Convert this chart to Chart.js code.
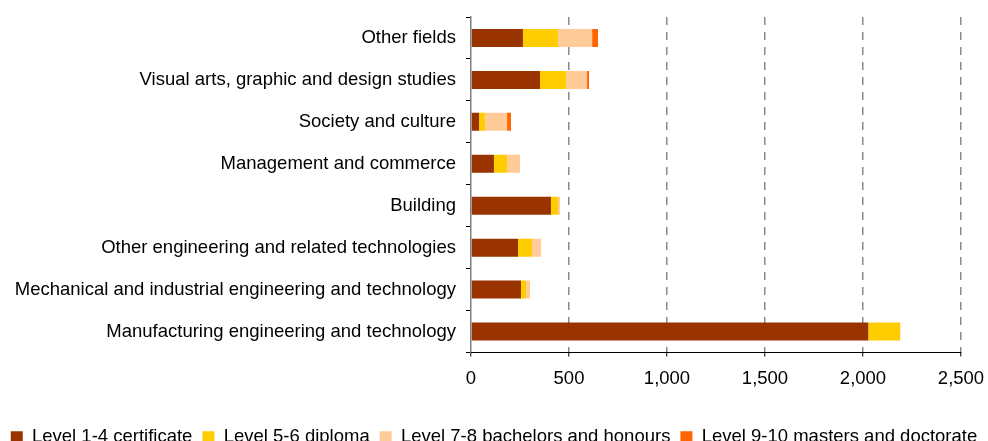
<!DOCTYPE html>
<html>
<head>
<meta charset="utf-8">
<script src="https://cdn.jsdelivr.net/npm/chart.js@4"></script>
<style>
html,body{margin:0;padding:0;overflow:hidden;background:#fff;}
#wrap{width:988px;height:456px;}
</style>
</head>
<body>
<div id="wrap"><canvas id="c" width="988" height="456"></canvas></div>
<script>
const categories = [
  "Other fields",
  "Visual arts, graphic and design studies",
  "Society and culture",
  "Management and commerce",
  "Building",
  "Other engineering and related technologies",
  "Mechanical and industrial engineering and technology",
  "Manufacturing engineering and technology"
];
const seriesNames = [
  "Level 1-4 certificate",
  "Level 5-6 diploma",
  "Level 7-8 bachelors and honours",
  "Level 9-10 masters and doctorate"
];
const certificate = [265, 352, 41, 117, 408, 240, 255, 2027];
const diploma     = [179, 133, 30,  67,  36,  71,  26,  163];
const bachelors   = [174, 107, 113, 66,  10,  46,  20,    0];
const masters     = [ 30,  10, 20,   0,   0,   0,   0,    0];
const xTicks = [0, 500, 1000, 1500, 2000, 2500];

const colors = ["#993300", "#FFCC00", "#FFCC99", "#FF6600"];
const values = [certificate, diploma, bachelors, masters];
const FONT = "'Liberation Sans', Arial, sans-serif";

const datasets = values.map((v, i) => ({
  label: seriesNames[i],
  data: v,
  backgroundColor: colors[i],
  borderWidth: 0,
  categoryPercentage: 1,
  barPercentage: 0.43,
  xAxisID: 'x',
  yAxisID: 'y'
}));

new Chart(document.getElementById('c'), {
  type: 'bar',
  data: { labels: categories, datasets },
  options: {
    indexAxis: 'y',
    responsive: false,
    animation: false,
    layout: { padding: { top: 17, right: 0, bottom: 0, left: 0 } },
    plugins: {
      tooltip: { enabled: false },
      legend: {
        position: 'bottom',
        labels: {
          boxWidth: 12,
          boxHeight: 11,
          padding: 10,
          color: '#000',
          font: { family: FONT, size: 18.5, lineHeight: 1 }
        }
      }
    },
    scales: {
      y: {
        stacked: true,
        position: 'left',
        afterFit: s => { s.width = 471; s.paddingTop = 0; s.paddingBottom = 0; },
        ticks: { color: '#000', padding: 10, font: { family: FONT, size: 18.5 } },
        grid: { display: true, drawOnChartArea: false, drawTicks: true, tickLength: 5, tickColor: '#000', offset: true },
        border: { display: true, color: '#808080', width: 1.5 }
      },
      yR: {
        type: 'category',
        position: 'right',
        display: true,
        afterFit: s => { s.width = 27; s.paddingTop = 0; s.paddingBottom = 0; },
        ticks: { display: false },
        grid: { display: false, drawTicks: false },
        border: { display: false }
      },
      x: {
        stacked: true,
        min: xTicks[0],
        max: xTicks[xTicks.length - 1],
        afterBuildTicks: s => { s.ticks = xTicks.map(v => ({ value: v })); },
        afterFit: s => { s.height = 65; s.paddingLeft = 0; s.paddingRight = 0; },
        ticks: {
          color: '#000',
          padding: 11,
          maxRotation: 0,
          font: { family: FONT, size: 18.5 },
          callback: v => Number(v).toLocaleString('en-US')
        },
        grid: {
          color: c => (c.tick && c.tick.value === 0) ? 'rgba(0,0,0,0)' : '#8a8a8a',
          lineWidth: 1.5,
          drawTicks: true,
          tickLength: 4,
          tickColor: '#000',
          tickWidth: 1
        },
        border: { display: true, color: '#000', width: 1, dash: [8, 7] }
      }
    }
  }
});
</script>
</body>
</html>
